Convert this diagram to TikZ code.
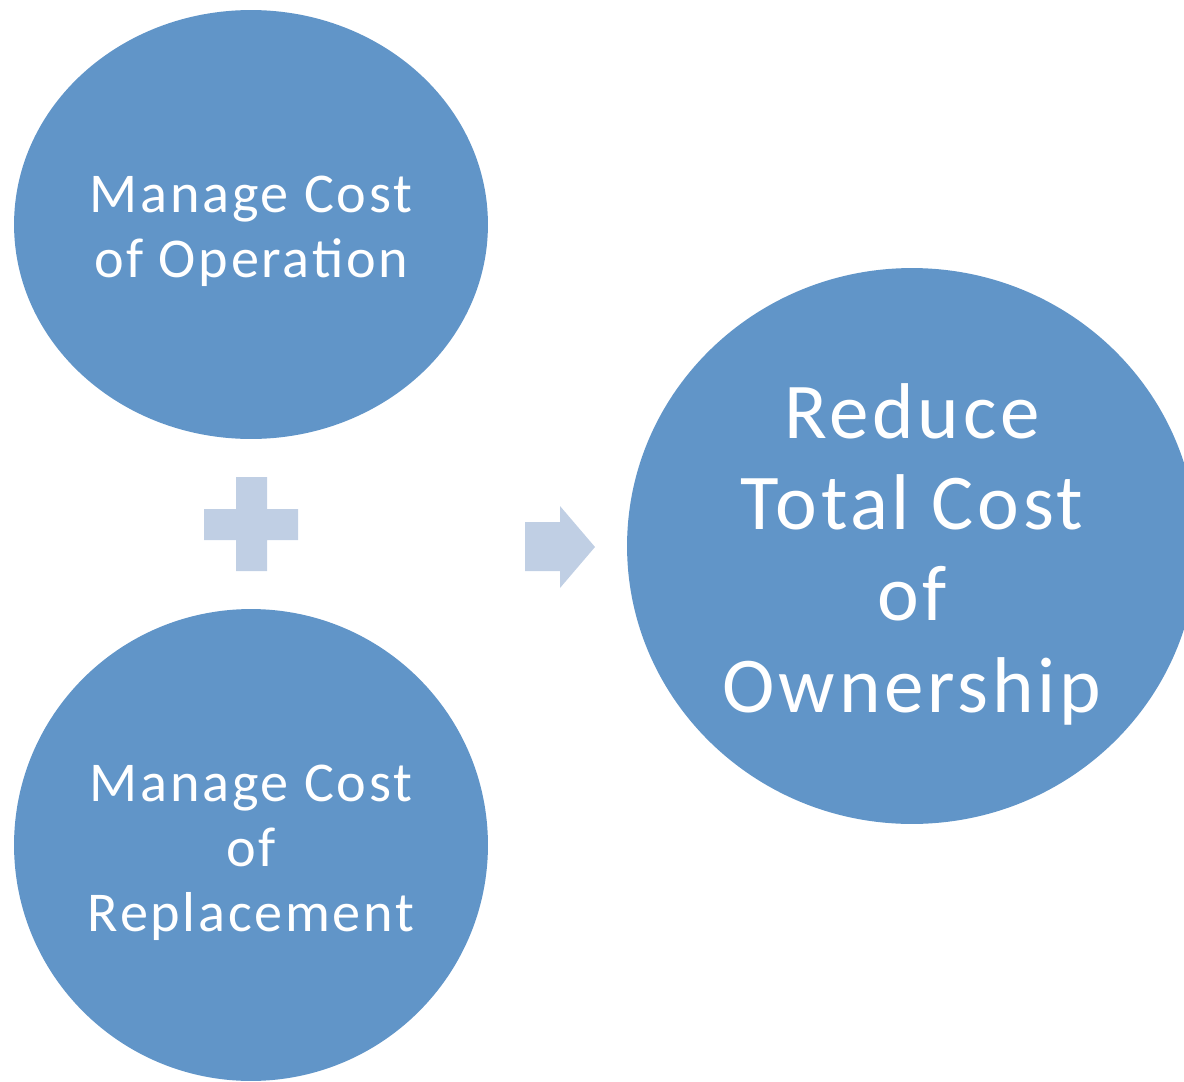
\documentclass[tikz,border=0pt]{standalone}
\usepackage{fontspec}
\setmainfont{Carlito}[LetterSpace=4.8]
\usetikzlibrary{shapes.geometric}
\definecolor{circblue}{HTML}{6195C8}
\definecolor{lightop}{HTML}{C0CFE4}
\begin{document}
\begin{tikzpicture}[x=0.02cm,y=-0.02cm,
  bubble/.style={ellipse,fill=circblue,draw=none,inner sep=0pt},
  txt/.style={text=white,align=center,inner sep=0pt},
  small/.style={font=\fontsize{32}{37}\selectfont},
  big/.style={font=\fontsize{45}{52}\selectfont},
  opshape/.style={fill=lightop,draw=none}]
\useasboundingbox (0,0) rectangle (1184,1082);
\clip (0,0) rectangle (1184,1082);
\node[bubble,minimum width=9.48cm,minimum height=8.58cm] (op) at (251,224.5) {};
\node[bubble,minimum width=9.48cm,minimum height=9.44cm] (rep) at (251,845) {};
\node[bubble,minimum width=11.4cm,minimum height=11.12cm] (tco) at (912,546) {};
\node[txt,small,yshift=-0.13cm] (optext) at (op.center) {Manage Cost\\of Operation};
\node[txt,small,yshift=-0.15cm] (reptext) at (rep.center) {Manage Cost\\of\\Replacement};
\node[txt,big,yshift=-0.16cm] (tcotext) at (tco.center) {Reduce\\Total Cost\\of\\Ownership};
% plus
\fill[opshape] (236,477) -- (267,477) -- (267,509) -- (298,509) -- (298,540) -- (267,540) -- (267,571) -- (236,571) -- (236,540) -- (204,540) -- (204,509) -- (236,509) -- cycle;
% arrow
\fill[opshape] (525,522) -- (560,522) -- (560,506) -- (595,547) -- (560,588) -- (560,571) -- (525,571) -- cycle;
\end{tikzpicture}
\end{document}
